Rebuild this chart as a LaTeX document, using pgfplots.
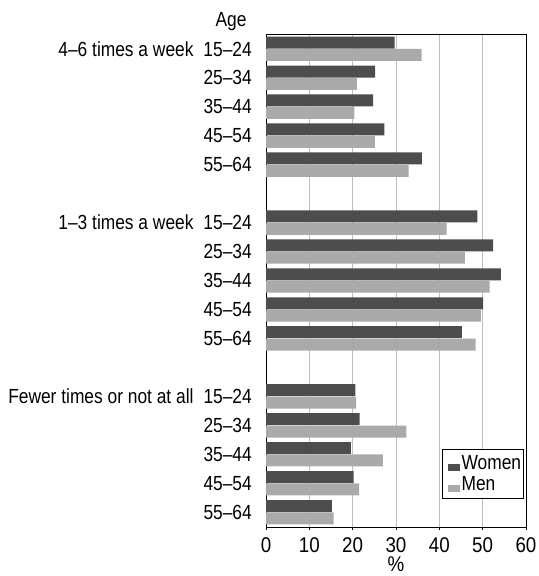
\documentclass[border=0pt]{standalone}
\usepackage{fontspec}
\setmainfont{Liberation Sans}[FakeStretch=0.85]
\newfontfamily\tickfont{Liberation Sans}[FakeStretch=0.88]
\usepackage{pgfplots}
\pgfplotsset{compat=1.18}
\definecolor{women}{HTML}{4D4D4D}
\definecolor{men}{HTML}{AAAAAA}
\newcommand{\lblfont}{\fontsize{20.5}{22}\selectfont}
\begin{document}
\begin{tikzpicture}
\path[use as bounding box] (0,0) rectangle (539bp,576bp);
\begin{axis}[
  at={(266bp,49bp)}, anchor=south west,
  scale only axis, width=260bp, height=493bp,
  clip=false,
  xbar, bar width=12bp,
  xmin=0, xmax=60, ymin=-0.51, ymax=16.51,
  xtick={0,10,20,30,40,50,60},
  ytick={0,1,2,3,4,6,7,8,9,10,12,13,14,15,16},
  yticklabels={55–64,45–54,35–44,25–34,{Fewer times or not at all\hspace{10bp}15–24},
               55–64,45–54,35–44,25–34,{1–3 times a week\hspace{10bp}15–24},
               55–64,45–54,35–44,25–34,{4–6 times a week\hspace{10bp}15–24}},
  ytick style={draw=none},
  xtick pos=bottom, tick align=outside, major tick length=3bp,
  xtick style={black, line width=0.5bp},
  /pgf/number format/assume math mode=true,
  xticklabel style={font=\tickfont\fontsize{21.4}{22}\selectfont, inner sep=0pt, yshift=-7bp},
  yticklabel style={font=\lblfont, inner sep=0pt, anchor=east, xshift=-11bp},
  xlabel={\%},
  xlabel style={font=\tickfont\fontsize{21.4}{22}\selectfont, at={(axis description cs:0.5,0)}, anchor=north, inner sep=0pt, yshift=-30bp},
  xmajorgrids, grid style={gray!50, line width=0.5bp},
  axis line style={black, line width=0.8bp},
  legend image code/.code={\path (-3.8bp,7bp) (13.4bp,7bp); \fill[#1] (0bp,-7bp) rectangle (12bp,0bp);},
  legend style={at={(1,0)}, anchor=south east, xshift=-2bp, yshift=27.7bp,
    draw=black, line width=0.8bp, font=\lblfont, inner xsep=2.5bp, inner ysep=6.5bp,
    nodes={inner sep=0pt}, row sep=5.4bp,
    cells={anchor=west}},
  legend cell align=left,
]
\addplot[fill=women, draw=none, bar shift=6.2bp] coordinates {
  (29.7,16) (25.2,15) (24.7,14) (27.3,13) (36.0,12)
  (48.8,10) (52.4,9) (54.2,8) (50.1,7) (45.2,6)
  (20.6,4) (21.6,3) (19.6,2) (20.2,1) (15.2,0)};
\addplot[fill=men, draw=none, bar shift=-6.2bp] coordinates {
  (35.9,16) (21.0,15) (20.4,14) (25.1,13) (32.9,12)
  (41.7,10) (45.9,9) (51.6,8) (49.6,7) (48.4,6)
  (20.8,4) (32.4,3) (27.0,2) (21.5,1) (15.6,0)};
\legend{Women,Men}
\node[anchor=base east, font=\lblfont, inner sep=0pt] at (rel axis cs:0,1) [xshift=-19.3bp, yshift=7bp] {Age};
\end{axis}
\end{tikzpicture}
\end{document}
